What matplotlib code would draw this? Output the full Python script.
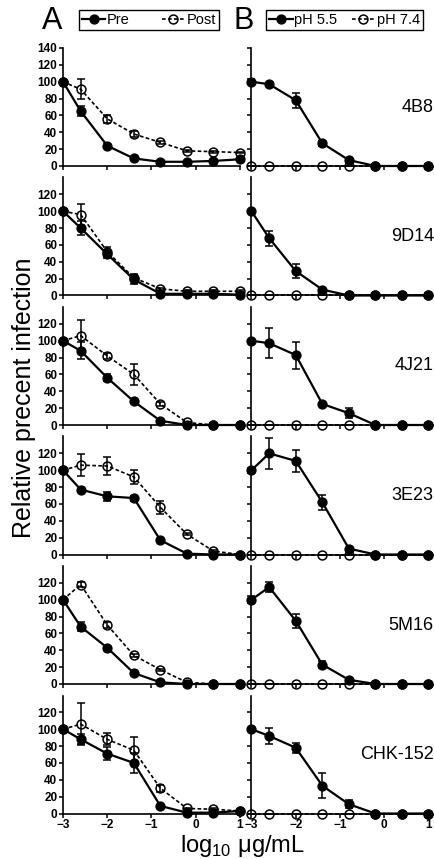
import numpy as np
import matplotlib
matplotlib.use("Agg")
import matplotlib.pyplot as plt
from matplotlib.lines import Line2D

plt.rcParams["font.family"] = ["Liberation Sans", "DejaVu Sans"]
plt.rcParams["mathtext.fontset"] = "custom"
plt.rcParams["mathtext.rm"] = "Liberation Sans"

# 濃度 (log10 ug/mL)
x_vals = [-3, -2.6, -2, -1.4, -0.8, -0.2, 0.4, 1]

mabs = ["4B8", "9D14", "4J21", "3E23", "5M16", "CHK-152"]

# パネルA: Pre / Post
pre_vals = [
    [100, 65, 24, 9, 5, 5, 6, 8],
    [100, 80, 49, 19, 2, 2, 2, 1],
    [100, 88, 56, 28, 5, 0, 0, 0],
    [100, 77, 69, 67, 17, 1, 0, 0],
    [100, 68, 43, 13, 2, 0, 0, 0],
    [100, 88, 71, 60, 9, 1, 1, 3],
]
pre_err = [
    [0, 6, 2, 1, 1, 1, 1, 1],
    [0, 8, 5, 5, 1, 1, 1, 1],
    [0, 10, 4, 1, 1, 0, 0, 0],
    [0, 1, 5, 3, 1, 0, 0, 0],
    [0, 5, 1, 1, 0, 0, 0, 0],
    [0, 6, 8, 12, 1, 0, 0, 1],
]
post_vals = [
    [100, 91, 56, 38, 28, 18, 17, 16],
    [100, 96, 52, 21, 8, 5, 5, 5],
    [100, 106, 82, 60, 25, 3, 0, 0],
    [100, 106, 105, 92, 56, 24, 4, 0],
    [100, 118, 70, 34, 17, 2, 0, 0],
    [100, 106, 88, 75, 30, 6, 5, 3],
]
post_err = [
    [0, 12, 5, 3, 2, 1, 1, 1],
    [0, 12, 5, 4, 1, 1, 1, 1],
    [0, 19, 4, 12, 2, 1, 0, 0],
    [0, 13, 11, 8, 8, 1, 1, 0],
    [0, 3, 4, 2, 1, 1, 0, 0],
    [0, 25, 7, 16, 4, 1, 1, 1],
]

# パネルB: pH 5.5 / pH 7.4
ph55_vals = [
    [100, 97, 78, 27, 7, 0, 0, 0],
    [100, 68, 29, 7, 0, 0, 0, 0],
    [100, 97, 83, 25, 14, 0, 0, 0],
    [100, 120, 111, 62, 7, 0, 0, 0],
    [100, 115, 75, 23, 5, 0, 0, 0],
    [100, 92, 78, 33, 11, 0, 0, 0],
]
ph55_err = [
    [3, 1, 9, 3, 1, 0, 0, 0],
    [0, 9, 8, 1, 0, 0, 0, 0],
    [0, 18, 16, 1, 6, 0, 0, 0],
    [3, 18, 13, 9, 1, 0, 0, 0],
    [4, 6, 8, 4, 1, 0, 0, 0],
    [0, 10, 6, 15, 5, 0, 0, 0],
]
ph74_vals = [[0, 0, 0, 0, 0, 0, 0, 0] for _ in mabs]

W, H = 435, 859
fig = plt.figure(figsize=(W / 100, H / 100), dpi=100)

solid_kw = dict(color="black", lw=1.6, marker="o", ms=6.4, mfc="black", mec="black",
                capsize=3.2, elinewidth=1.1, capthick=1.1, ecolor="black")
dash_kw = dict(color="black", lw=1.2, ls=(0, (2.2, 1.4)), marker="o", ms=6.4, mfc="none",
               mec="black", mew=1.1, capsize=3.2, elinewidth=1.1, capthick=1.1, ecolor="black")


def draw(ax, yv, ye, open_v, open_e):
    e1 = ax.errorbar(x_vals, open_v, yerr=open_e, **dash_kw)
    e2 = ax.errorbar(x_vals, yv, yerr=ye, **solid_kw)
    for e in (e1, e2):
        for art in (e.lines[0],) + tuple(e.lines[1]) + tuple(e.lines[2]):
            art.set_clip_on(False)


def style(ax, row, show_ylabels):
    ax.set_xlim(-3, 1)
    ax.set_ylim(0, 140)
    for s in ("top", "right"):
        ax.spines[s].set_visible(False)
    for s in ("left", "bottom"):
        ax.spines[s].set_linewidth(1.2)
    ax.set_xticks([-3, -2, -1, 0, 1])
    if row == 0:
        ax.set_yticks(range(0, 141, 20))
    else:
        ax.set_yticks(range(0, 121, 20))
    ax.tick_params(direction="out", length=3, width=1.1, pad=1, labelsize=8.5)
    for t in ax.get_xticklabels() + ax.get_yticklabels():
        t.set_fontweight("bold")
    if not show_ylabels:
        ax.set_yticklabels([])
    if row < 5:
        ax.set_xticklabels([])


left_a, left_b, ax_w = 63, 251.5, 177
y0_px = [166 + 129.5 * i for i in range(6)]
ax_h = 118

for i, mab in enumerate(mabs):
    bottom = 1 - y0_px[i] / H
    axA = fig.add_axes([left_a / W, bottom, ax_w / W, ax_h / H])
    axB = fig.add_axes([left_b / W, bottom, ax_w / W, ax_h / H])
    draw(axA, pre_vals[i], pre_err[i], post_vals[i], post_err[i])
    draw(axB, ph55_vals[i], ph55_err[i], ph74_vals[i], [0] * 8)
    style(axA, i, True)
    style(axB, i, False)
    axB.text(1.03, 0.5, mab, transform=axB.transAxes, ha="right", va="center", fontsize=13)

fig.text(24 / W, 1 - 398 / H, "Relative precent infection", rotation=90,
         ha="center", va="center", fontsize=18)
fig.text(242 / W, 1 - 846 / H, r"log$_\mathrm{10}$ μg/mL", ha="center", va="center", fontsize=17)
fig.text(52 / W, 1 - 21 / H, "A", ha="center", va="center", fontsize=22)
fig.text(244 / W, 1 - 21 / H, "B", ha="center", va="center", fontsize=22)

h_solid = Line2D([], [], color="black", lw=1.6, marker="o", ms=6.4, mfc="black")
h_dash = Line2D([], [], color="black", lw=1.2, ls=(0, (2.2, 1.4)), marker="o", ms=6.4,
                mfc="none", mew=1.1)
leg_kw = dict(loc="center", ncol=2, fancybox=False, edgecolor="black", framealpha=1,
              fontsize=10.5, handlelength=1.6, handletextpad=0.1, columnspacing=2.2,
              borderpad=0.2, borderaxespad=0)
legA = fig.legend([h_solid, h_dash], ["Pre", "Post"], bbox_to_anchor=(149 / W, 1 - 20 / H), **leg_kw)
legA.get_frame().set_linewidth(1.0)
legB = fig.legend([h_solid, h_dash], ["pH 5.5", "pH 7.4"], bbox_to_anchor=(344.5 / W, 1 - 20 / H),
                  **dict(leg_kw, columnspacing=1.0))
legB.get_frame().set_linewidth(1.0)

fig.savefig("out.png", dpi=100)
